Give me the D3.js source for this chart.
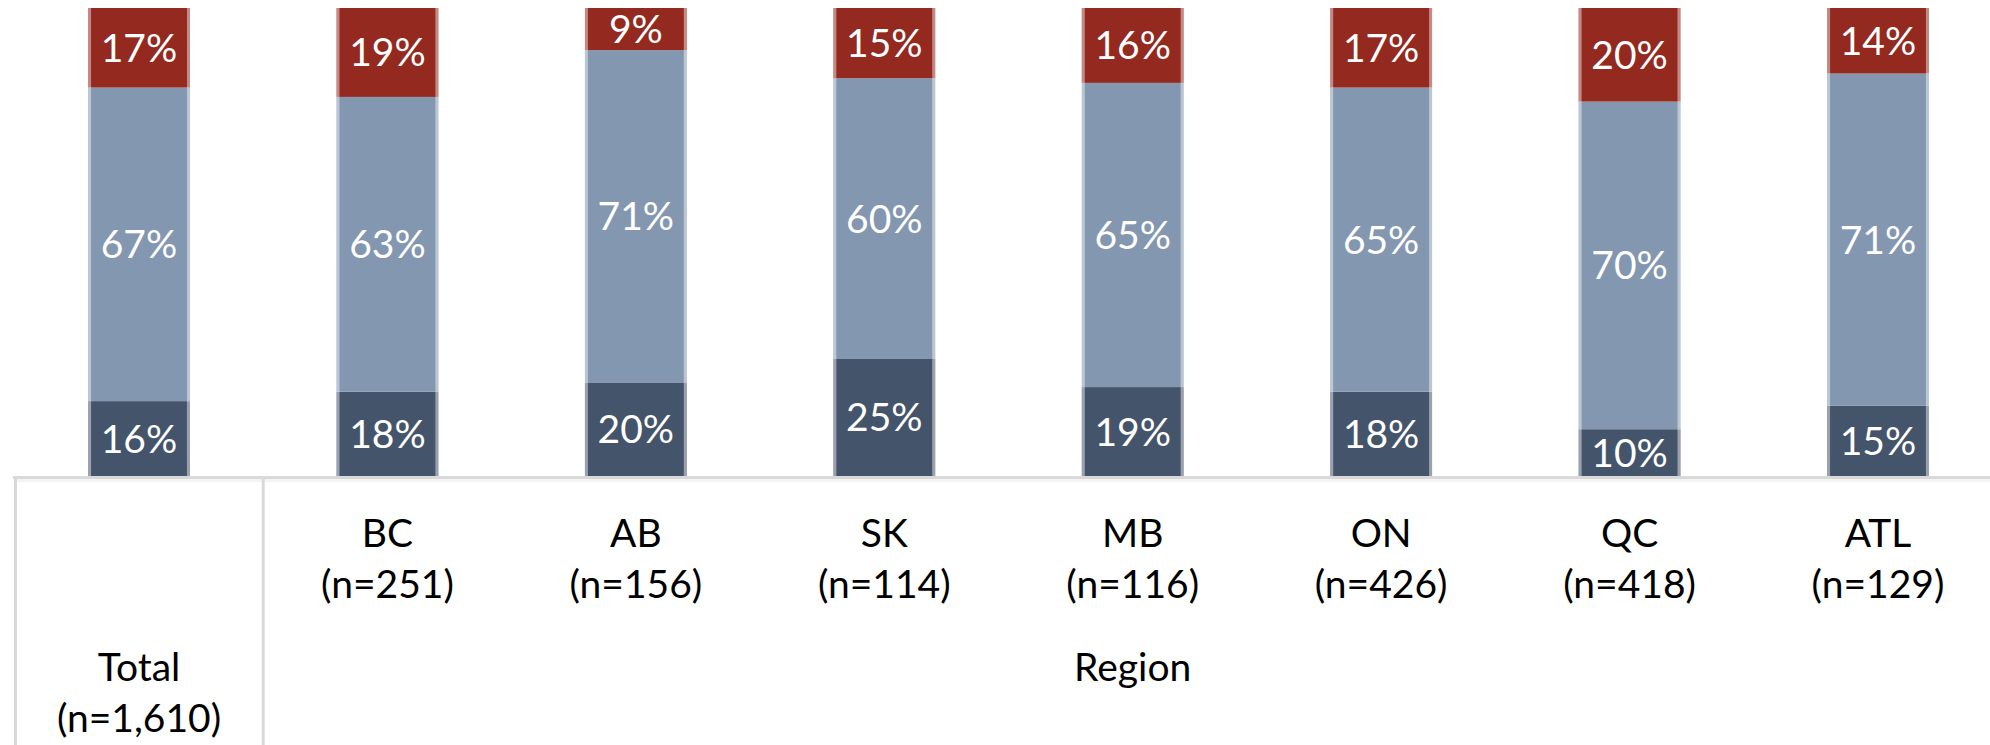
<!DOCTYPE html>
<html>
<head>
<meta charset="utf-8">
<script src="https://cdn.jsdelivr.net/npm/d3@7"></script>
<style>
  body { margin: 0; background: #fff; }
  svg { display: block; }
  text { font-family: Lato, "Noto Sans", sans-serif; }
</style>
</head>
<body>
<svg id="chart" width="1990" height="745"></svg>
<script>
// categories and sample sizes
var categories = ["Total", "BC", "AB", "SK", "MB", "ON", "QC", "ATL"];
var sampleSizes = ["(n=1,610)", "(n=251)", "(n=156)", "(n=114)", "(n=116)", "(n=426)", "(n=418)", "(n=129)"];
var groupLabel = "Region";

// stacked shares, bottom to top
var bottomValues = [16, 18, 20, 25, 19, 18, 10, 15];
var middleValues = [67, 63, 71, 60, 65, 65, 70, 71];
var topValues    = [17, 19, 9, 15, 16, 17, 20, 14];

var seriesKeys = ["bottom", "middle", "top"];
var seriesColors = { bottom: "#44546a", middle: "#8497b0", top: "#93291f" };

var W = 1990, H = 745;
var fontSize = 39;
var baseY = 476;

var table = categories.map(function(c, i) {
  return { cat: c, n: sampleSizes[i], bottom: bottomValues[i], middle: middleValues[i], top: topValues[i] };
});

var svg = d3.select("#chart");

var x = d3.scaleBand()
  .domain(categories)
  .range([14.8, 2002.2])
  .paddingInner(0.59)
  .paddingOuter(0.295);

var y = d3.scaleLinear().domain([0, 100]).range([baseY, 8]);

var stack = d3.stack().keys(seriesKeys);
var series = stack(table);

// segments
var layer = svg.selectAll("g.layer")
  .data(series)
  .enter().append("g")
  .attr("class", "layer")
  .attr("fill", function(d) { return seriesColors[d.key]; });

layer.selectAll("rect")
  .data(function(d) { return d; })
  .enter().append("rect")
  .attr("x", function(d) { return x(d.data.cat); })
  .attr("y", function(d) { return y(d[1]); })
  .attr("width", x.bandwidth())
  .attr("height", function(d) { return y(d[0]) - y(d[1]); });

// light edges on bar sides
svg.selectAll("g.edge")
  .data(table)
  .enter().append("g")
  .attr("class", "edge")
  .each(function(d) {
    var g = d3.select(this);
    [x(d.cat) + 1.5, x(d.cat) + x.bandwidth() - 1.5].forEach(function(px) {
      g.append("line")
        .attr("x1", px).attr("x2", px)
        .attr("y1", y(100)).attr("y2", y(0))
        .attr("stroke", "#fff")
        .attr("stroke-opacity", 0.45)
        .attr("stroke-width", 3);
    });
  });

// value labels
layer.selectAll("text")
  .data(function(d) { return d; })
  .enter().append("text")
  .attr("x", function(d) { return x(d.data.cat) + x.bandwidth() / 2; })
  .attr("y", function(d) { return (y(d[0]) + y(d[1])) / 2 + fontSize * 0.358; })
  .attr("text-anchor", "middle")
  .attr("fill", "#fff")
  .style("font-size", fontSize + "px")
  .text(function(d) { return Math.round(d[1] - d[0]) + "%"; });

// table lines under the bars
var grid = svg.append("g").attr("stroke-width", 3);
grid.append("line")
  .attr("x1", 13).attr("x2", W)
  .attr("y1", baseY + 1.5).attr("y2", baseY + 1.5)
  .attr("stroke", "#d9d9d9");
grid.append("line")
  .attr("x1", 17).attr("x2", W)
  .attr("y1", baseY + 4.5).attr("y2", baseY + 4.5)
  .attr("stroke", "#f4f4f4");
var step = x.step();
var r0 = x.range()[0];
[r0 + 0.7, r0 + step].forEach(function(px) {
  grid.append("line")
    .attr("x1", px).attr("x2", px)
    .attr("y1", baseY).attr("y2", H)
    .attr("stroke", "#d9d9d9");
});

// category labels
var labels = svg.append("g")
  .attr("text-anchor", "middle")
  .attr("fill", "#000")
  .style("font-size", fontSize + "px");

table.forEach(function(d, i) {
  var cx = x(d.cat) + x.bandwidth() / 2;
  var y1 = i === 0 ? 681 : 547;
  labels.append("text").attr("x", cx).attr("y", y1).text(d.cat);
  labels.append("text").attr("x", cx).attr("y", y1 + 51).text(d.n);
});

var regionCenters = categories.slice(1).map(function(c) { return x(c) + x.bandwidth() / 2; });
labels.append("text")
  .attr("x", d3.mean(regionCenters))
  .attr("y", 681)
  .text(groupLabel);
</script>
</body>
</html>
